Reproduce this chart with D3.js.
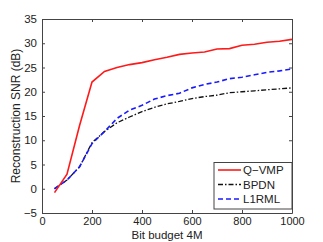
<!DOCTYPE html>
<html>
<head>
<meta charset="utf-8">
<script src="https://cdn.jsdelivr.net/npm/d3@7"></script>
<style>
  body { margin: 0; background: #fff; }
  text { font-family: "Liberation Sans", Arial, sans-serif; fill: #222; }
</style>
</head>
<body>
<div id="chart"></div>
<script>
// データ
const bitBudget = [50,100,150,200,250,300,350,400,450,500,550,600,650,700,750,800,850,900,950,1000];
const qvmp  = [-0.8,3,13,22,24.2,25,25.6,26,26.6,27.1,27.7,28,28.2,28.8,28.9,29.6,29.8,30.2,30.4,30.8];
const bpdn  = [0,1.8,4.5,9.5,11.8,13.6,14.8,15.9,16.8,17.5,18,18.6,19,19.3,19.8,20,20.2,20.4,20.6,20.8];
const l1rml = [0,1.8,4.5,9.3,11.8,14.5,16.2,17.2,18.5,19.2,19.7,20.8,21.5,22,22.7,23,23.5,24,24.3,24.7];
const seriesNames = ["Q\u2212VMP", "BPDN", "L1RML"];
const xTicks = [0,200,400,600,800,1000];
const yTicks = [-5,0,5,10,15,20,25,30,35];

const W = 323, H = 242;
const m = { left: 42, right: 31, top: 19, bottom: 29 };

const svg = d3.select("#chart").append("svg").attr("width", W).attr("height", H);

const x = d3.scaleLinear().domain([0, 1000]).range([m.left, W - m.right]);
const y = d3.scaleLinear().domain([-5, 35]).range([H - m.bottom, m.top]);

const axisColor = "#444";

// 軸
const gx = svg.append("g").attr("transform", `translate(0,${H - m.bottom})`)
  .call(d3.axisBottom(x).tickValues(xTicks).tickSizeInner(-3).tickSizeOuter(0).tickPadding(4)
    .tickFormat(d3.format("d")));
const gxt = svg.append("g").attr("transform", `translate(0,${m.top})`)
  .call(d3.axisTop(x).tickValues(xTicks).tickSizeInner(-3).tickSizeOuter(0).tickFormat(""));
const gy = svg.append("g").attr("transform", `translate(${m.left},0)`)
  .call(d3.axisLeft(y).tickValues(yTicks).tickSizeInner(-3).tickSizeOuter(0).tickPadding(5)
    .tickFormat(d => d < 0 ? "\u2212" + Math.abs(d) : d));
const gyr = svg.append("g").attr("transform", `translate(${W - m.right},0)`)
  .call(d3.axisRight(y).tickValues(yTicks).tickSizeInner(-3).tickSizeOuter(0).tickFormat(""));

[gx, gxt, gy, gyr].forEach(g => {
  g.select(".domain").attr("stroke", axisColor);
  g.selectAll(".tick line").attr("stroke", axisColor);
  g.selectAll(".tick text").style("font-size", "11.5px").attr("fill", "#222");
});
gx.selectAll(".tick text").style("font-size", "11px");

// 線
const line = d3.line().x((d, i) => x(bitBudget[i])).y(d => y(d));
const styles = [
  { data: qvmp,  color: "#ff1a1a", dash: null,        w: 1.6 },
  { data: bpdn,  color: "#111",    dash: "5,2,1.5,2", w: 1.3 },
  { data: l1rml, color: "#1a1aff", dash: "5,3",       w: 1.6 }
];
// 描画順: BPDN, L1RML, Q-VMP
[1, 2, 0].forEach(k => {
  const s = styles[k];
  svg.append("path").datum(s.data)
    .attr("d", line)
    .attr("fill", "none")
    .attr("stroke", s.color)
    .attr("stroke-width", s.w)
    .attr("stroke-dasharray", s.dash);
});

// 凡例
const lg = svg.append("g");
lg.append("rect").attr("x", 214).attr("y", 162.5).attr("width", 78).attr("height", 46.5)
  .attr("fill", "#fff").attr("stroke", axisColor).attr("stroke-width", 1);
const rowsY = [170, 184.5, 199];
styles.forEach((s, i) => {
  lg.append("line").attr("x1", 218).attr("x2", 241).attr("y1", rowsY[i]).attr("y2", rowsY[i])
    .attr("stroke", s.color).attr("stroke-width", s.w).attr("stroke-dasharray", s.dash);
  lg.append("text").attr("x", 243).attr("y", rowsY[i]).attr("dy", "0.35em")
    .style("font-size", "11.5px").text(seriesNames[i]);
});

// ラベル
svg.append("text").attr("x", (m.left + W - m.right) / 2).attr("y", 238.5)
  .attr("text-anchor", "middle").style("font-size", "11.5px").text("Bit budget 4M");
svg.append("text")
  .attr("transform", `translate(16,${(m.top + H - m.bottom) / 2}) rotate(-90)`)
  .attr("text-anchor", "middle").attr("dy", "0.35em").style("font-size", "12px")
  .text("Reconstruction SNR (dB)");
</script>
</body>
</html>
